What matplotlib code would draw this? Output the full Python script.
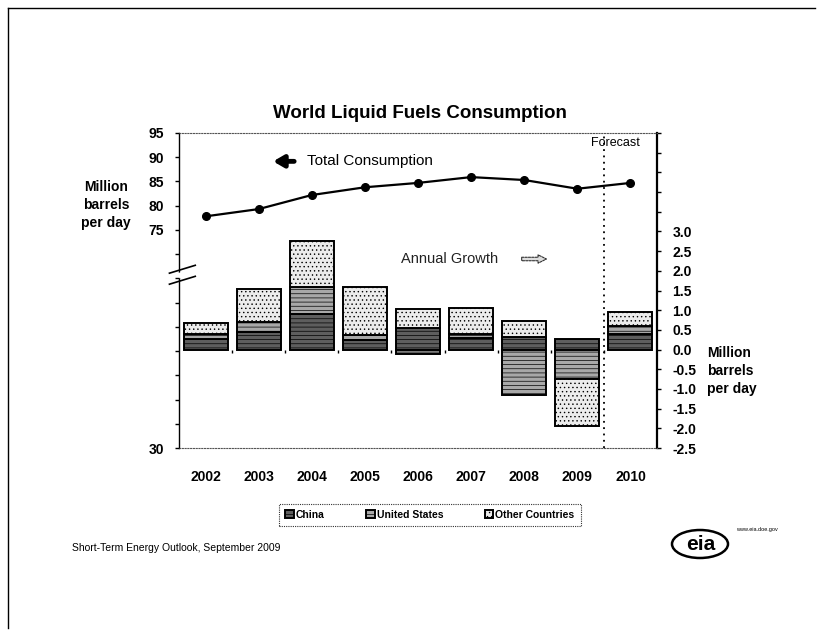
import matplotlib
matplotlib.use("Agg")
import matplotlib.pyplot as plt
from matplotlib.patches import Ellipse
from matplotlib.lines import Line2D
import numpy as np

plt.rcParams['font.family'] = ['Liberation Sans', 'DejaVu Sans']
plt.rcParams['hatch.color'] = '#3a3a3a'
plt.rcParams['hatch.linewidth'] = 0.5

# ---- data -------------------------------------------------------------
years = ["2002", "2003", "2004", "2005", "2006", "2007", "2008", "2009", "2010"]
total_consumption = [77.8, 79.3, 82.2, 83.8, 84.7, 85.9, 85.3, 83.5, 84.7]   # million b/d
growth_china = [0.26, 0.44, 0.90, 0.24, 0.54, 0.30, 0.32, 0.26, 0.39]
growth_us = [0.13, 0.26, 0.68, 0.13, -0.10, 0.09, -1.15, -0.74, 0.20]
growth_other = [0.28, 0.85, 1.18, 1.21, 0.50, 0.67, 0.41, -1.20, 0.36]
series_names = ["China", "United States", "Other Countries"]

left_tick_labels = {30: "30", 75: "75", 80: "80", 85: "85", 90: "90", 95: "95"}
right_labeled = [-2.5, -2.0, -1.5, -1.0, -0.5, 0.0, 0.5, 1.0, 1.5, 2.0, 2.5, 3.0]

# ---- figure -----------------------------------------------------------
W, H = 819, 633
fig = plt.figure(figsize=(W / 100, H / 100), dpi=100)
fig.patch.set_facecolor("white")

ax = fig.add_axes([179 / W, 1 - 448 / H, 478 / W, 315 / H])
ax2 = ax.twinx()
x = np.arange(len(years))

# stacked growth bars (positive and negative parts stacked separately)
styles = [
    dict(facecolor="#5e5e5e", hatch="----"),
    dict(facecolor="#a8a8a8", hatch="----"),
    dict(facecolor="#ececec", hatch="...."),
]
pos_base = np.zeros(len(years))
neg_base = np.zeros(len(years))
for vals, st, name in zip([growth_china, growth_us, growth_other], styles, series_names):
    v = np.array(vals)
    base = np.where(v >= 0, pos_base, neg_base)
    ax.bar(x, v, bottom=base, width=0.83, edgecolor="black", linewidth=1.4,
           label=name, zorder=2, **st)
    pos_base = pos_base + np.where(v >= 0, v, 0)
    neg_base = neg_base + np.where(v < 0, v, 0)

ax.set_xlim(-0.5, len(years) - 0.5)
ax.set_ylim(-2.5, 5.5)
ax.set_xticks(x)
ax.set_xticklabels(years, fontsize=10, fontweight="bold")
ax.tick_params(axis="x", length=0, pad=16)

# right-hand growth axis
ax.yaxis.tick_right()
right_ticks = np.arange(-2.5, 5.51, 0.5)
ax.set_yticks(right_ticks)
ax.set_yticklabels([("%.1f" % t) if round(t, 1) in right_labeled else "" for t in right_ticks],
                   fontsize=10, fontweight="bold")
ax.tick_params(axis="y", which="both", left=False, labelleft=False, right=True,
               labelright=True, direction="out", length=3, width=1, pad=8)

# small marks between categories on the zero line
bounds = np.arange(0.5, len(years) - 1, 1.0)
ax.vlines(bounds, -0.09, 0, color="black", linewidth=1, zorder=3)

for s in ["top", "bottom"]:
    ax.spines[s].set_linestyle((0, (1, 1.5)))
    ax.spines[s].set_color("#555555")
    ax.spines[s].set_linewidth(0.8)
ax.spines["left"].set_linewidth(1.0)
ax.spines["right"].set_linewidth(1.6)

# forecast divider
ax.axvline(7.5, color="black", linestyle=(0, (1, 2.5)), linewidth=1.3, zorder=3)
ax.text(7.71, 5.24, "Forecast", ha="center", va="center", fontsize=9)

# ---- total consumption on the left axis ------------------------------
ax2.plot(x, total_consumption, color="black", linewidth=1.6, marker="o",
         markersize=5.5, zorder=4)
ax2.set_ylim(30, 95)
ticks_left = np.arange(30, 96, 5)
ax2.set_yticks(ticks_left)
ax2.set_yticklabels([left_tick_labels.get(int(t), "") for t in ticks_left],
                    fontsize=10, fontweight="bold")
ax2.tick_params(axis="y", left=True, labelleft=True, right=False, labelright=False,
                direction="out", length=3, width=1, pad=8)
for s in ax2.spines.values():
    s.set_visible(False)

ax.text(1.91, 4.78, "Total Consumption", ha="left", va="center", fontsize=11)
ax.annotate("", xy=(1.22, 4.78), xytext=(1.72, 4.78),
            arrowprops=dict(arrowstyle="-|>,head_length=0.6,head_width=0.35",
                            color="black", linewidth=3.5))
ax.text(3.68, 2.30, "Annual Growth", ha="left", va="center", fontsize=10.5, color="#222222")
ax.annotate("", xy=(6.47, 2.30), xytext=(5.9, 2.30),
            arrowprops=dict(arrowstyle="simple,head_length=0.6,head_width=0.6,tail_width=0.25",
                            facecolor="#dddddd", edgecolor="#333333",
                            linestyle=(0, (2, 1)), linewidth=0.8))

# axis break marks on the left axis
ax.add_patch(plt.Polygon([[-0.03, 0.525], [0.04, 0.556], [0.04, 0.574], [-0.03, 0.543]],
                         closed=True, transform=ax.transAxes, facecolor="white",
                         edgecolor="none", clip_on=False, zorder=5))
for dy in (0.0, 0.035):
    ax.add_line(Line2D([-0.02, 0.034], [0.52 + dy, 0.545 + dy], transform=ax.transAxes,
                       color="black", linewidth=1.2, clip_on=False, zorder=6))

# ---- titles and side labels ------------------------------------------
fig.text(420 / W, 1 - 114 / H, "World Liquid Fuels Consumption", ha="center", va="center",
         fontsize=13.5, fontweight="bold")
fig.text(106 / W, 1 - 205 / H, "Million\nbarrels\nper day", ha="center", va="center",
         fontsize=10, fontweight="bold", linespacing=1.35)
fig.text(707 / W, 1 - 371 / H, "Million\nbarrels\nper day", ha="left", va="center",
         fontsize=10, fontweight="bold", linespacing=1.35)

# ---- legend -----------------------------------------------------------
leg = fig.legend(*ax.get_legend_handles_labels(), loc="center",
                 bbox_to_anchor=(430 / W, 1 - 515 / H), ncol=3,
                 prop=dict(weight="bold", size=7.5), handlelength=0.8, handleheight=0.8,
                 handletextpad=0.2, columnspacing=4.0, frameon=True, fancybox=False,
                 borderpad=0.6)
leg.get_frame().set_edgecolor("black")
leg.get_frame().set_linestyle((0, (1, 1)))
leg.get_frame().set_linewidth(0.8)

# ---- footer and logo --------------------------------------------------
fig.text(72 / W, 1 - 548 / H, "Short-Term Energy Outlook, September 2009", ha="left",
         va="center", fontsize=7.5)
fig.patches.append(Ellipse((700 / W, 1 - 544 / H), 56 / W, 28 / H, transform=fig.transFigure,
                           facecolor="white", edgecolor="black", linewidth=1.8))
fig.text(701 / W, 1 - 545 / H, "eia", ha="center", va="center", fontsize=15,
         fontweight="bold")
fig.text(736 / W, 1 - 530 / H, "www.eia.doe.gov", ha="left", va="center", fontsize=4)

# page frame
fig.add_artist(Line2D([8 / W, 815 / W], [1 - 8 / H, 1 - 8 / H], transform=fig.transFigure,
                      color="black", linewidth=1.0))
fig.add_artist(Line2D([8 / W, 8 / W], [1 - 8 / H, 1 - 628 / H], transform=fig.transFigure,
                      color="black", linewidth=1.0))

fig.savefig("out.png", dpi=100, facecolor="white")
